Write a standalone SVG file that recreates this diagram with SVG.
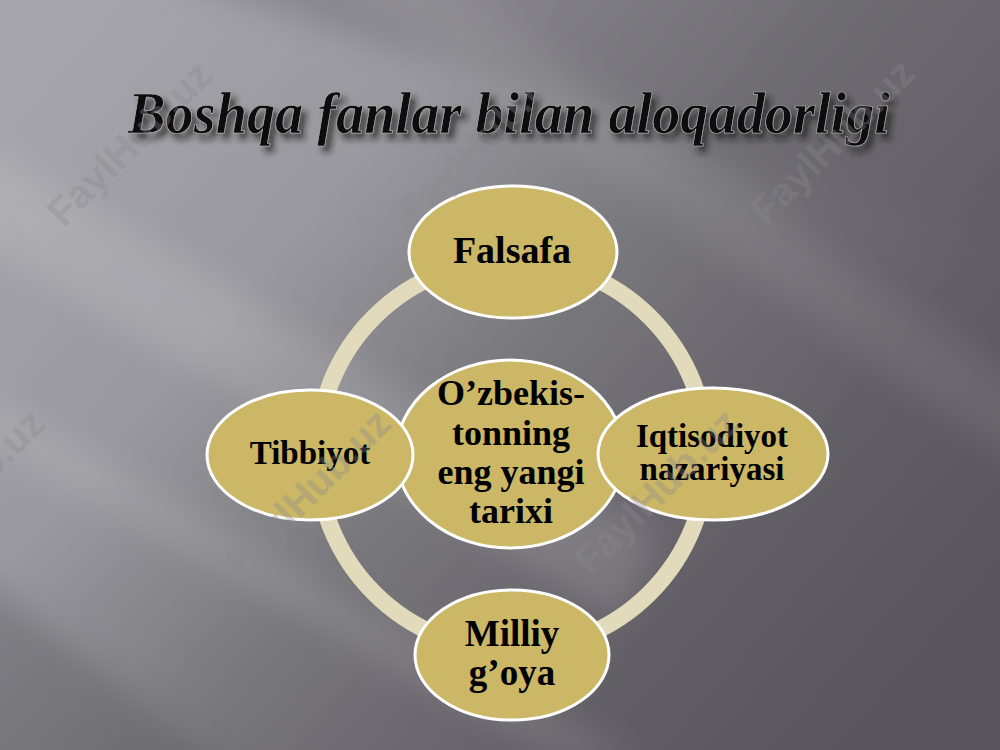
<svg xmlns="http://www.w3.org/2000/svg" width="1000" height="750" viewBox="0 0 1000 750">
<defs>
<linearGradient id="bg" x1="0" y1="0.1" x2="1" y2="0.75">
<stop offset="0" stop-color="#a6a5ab"/>
<stop offset="0.3" stop-color="#9a999f"/>
<stop offset="0.55" stop-color="#77767b"/>
<stop offset="0.8" stop-color="#625f66"/>
<stop offset="1" stop-color="#58565c"/>
</linearGradient>
<filter id="soft" x="-20%" y="-20%" width="140%" height="140%"><feGaussianBlur stdDeviation="16"/></filter>
<filter id="shadow" x="-5%" y="-30%" width="110%" height="170%"><feDropShadow dx="5" dy="6" stdDeviation="3" flood-color="#1a1a1a" flood-opacity="0.7"/></filter>
<style>
.node{fill:#cbb766;stroke:#ffffff;stroke-width:3}
.lbl{font-family:"Liberation Serif","Times New Roman",serif;font-weight:bold;fill:#000;text-anchor:middle}
.wm{font-family:"Liberation Sans",Arial,sans-serif;font-weight:bold;font-size:40px;fill:#8a898e;fill-opacity:0.35;text-anchor:middle}
.title{font-family:"Liberation Serif","Times New Roman",serif;font-weight:bold;font-style:italic;font-size:60px;text-anchor:middle}
</style>
</defs>
<g id="background">
<rect width="1000" height="750" fill="url(#bg)"/>
<polygon points="120,-40 1050,-40 1050,260" fill="#5e5d63" opacity="0.35" filter="url(#soft)"/>
<polygon points="-40,130 -40,230 620,620 660,540" fill="#ffffff" opacity="0.12" filter="url(#soft)"/>
<polygon points="-40,380 -40,430 560,760 640,760" fill="#ffffff" opacity="0.1" filter="url(#soft)"/>
<polygon points="-40,560 -40,800 260,800" fill="#55545a" opacity="0.35" filter="url(#soft)"/>
<polygon points="300,-40 420,-40 1040,400 1040,480" fill="#ffffff" opacity="0.07" filter="url(#soft)"/>
</g>
<g id="title">
<text class="title" x="509" y="133" fill="#0d0d0d" stroke="#b0b0b0" stroke-width="0.7" textLength="762" lengthAdjust="spacingAndGlyphs" filter="url(#shadow)">Boshqa fanlar bilan aloqadorligi</text>
</g>
<g id="connectors">
<circle cx="512" cy="455" r="195" fill="none" stroke="#e2dbbb" stroke-width="17"/>
</g>
<g id="node-center">
<ellipse class="node" cx="510" cy="454" rx="114" ry="94"/>
<text class="lbl" font-size="36"><tspan x="511" y="405">O’zbekis-</tspan><tspan x="511" y="445">tonning</tspan><tspan x="511" y="484">eng yangi</tspan><tspan x="511" y="523">tarixi</tspan></text>
</g>
<g id="node-falsafa">
<ellipse class="node" cx="513" cy="252" rx="104" ry="66"/>
<text class="lbl" font-size="38" x="512" y="263">Falsafa</text>
</g>
<g id="node-tibbiyot">
<ellipse class="node" cx="310" cy="455" rx="103" ry="65"/>
<text class="lbl" font-size="33" x="310" y="464">Tibbiyot</text>
</g>
<g id="node-iqtisodiyot">
<ellipse class="node" cx="713" cy="454" rx="115" ry="66"/>
<text class="lbl" font-size="33"><tspan x="712" y="447">Iqtisodiyot</tspan><tspan x="712" y="480">nazariyasi</tspan></text>
</g>
<g id="node-milliy">
<ellipse class="node" cx="512" cy="655" rx="97" ry="65"/>
<text class="lbl" font-size="37"><tspan x="512" y="646">Milliy</tspan><tspan x="512" y="685">g’oya</tspan></text>
</g>
<g id="watermarks">
<text class="wm" transform="translate(139,153) rotate(-45)">FaylHub.uz</text>
<text class="wm" transform="translate(490,151) rotate(-45)">FaylHub.uz</text>
<text class="wm" transform="translate(842,151) rotate(-45)">FaylHub.uz</text>
<text class="wm" transform="translate(-28,501) rotate(-45)">FaylHub.uz</text>
<text class="wm" transform="translate(318,501) rotate(-45)">FaylHub.uz</text>
<text class="wm" transform="translate(666,501) rotate(-45)">FaylHub.uz</text>
</g>
</svg>
